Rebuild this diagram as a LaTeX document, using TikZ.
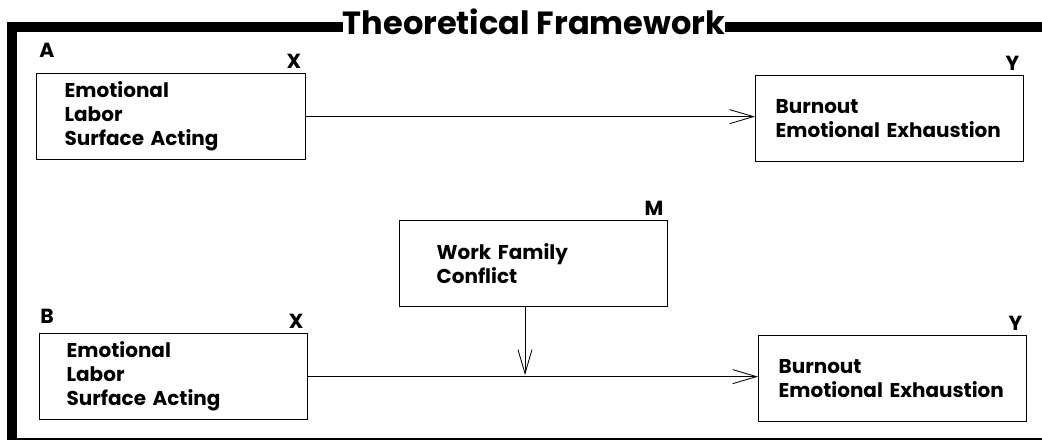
\documentclass[tikz,border=0pt]{standalone}
\usepackage{fontspec}
\setmainfont{Poppins}
\usetikzlibrary{arrows.meta}
\usetikzlibrary{positioning}
\tikzset{
	varbox/.style={draw, line width=0.9pt, anchor=north west, minimum height=2.15cm, align=left, inner ysep=0pt, font=\bfseries\fontsize{14.2}{17}\selectfont},
	varlabel/.style={font=\bfseries\fontsize{14.5}{16}\selectfont},
	link/.style={line width=0.6pt, -{Straight Barb[length=17pt, width=10pt, line width=0.6pt]}},
	frame/.style={line width=6.8pt, line cap=rect}
}

\begin{document}
\begin{tikzpicture}[x=0.025cm, y=-0.025cm]
	\useasboundingbox (0,0) rectangle (1042,440);
	\node (title) at (534,22) {\bfseries\fontsize{22.8}{26}\selectfont Theoretical Framework};
	\coordinate (corner) at (12,27);
	\draw[frame] (title.west |- corner) -- (corner) -- (12,443) -- (1045,443);
	\draw[frame] (title.east |- corner) -- (1045,27);
	% panel A
	\node[varlabel] (labA) at (47,50) {A};
	\node[varbox, text width=5.32cm, inner xsep=0.7cm] (xA) at (36,73) {Emotional\\Labor\\Surface Acting};%X
	\node[varbox, text width=5.7cm, inner xsep=0.5cm] (yA) at (755,75) {Burnout\\Emotional Exhaustion};%Y
	\node[varlabel, anchor=south east] (labXA) at (xA.north east) {X};
	\node[varlabel, anchor=south east] (labYA) at (yA.north east) {Y};
	\draw[link] (xA.east) -- (xA.east -| yA.west);
	% mediator
	\node[varbox, text width=4.85cm, inner xsep=0.925cm] (med) at (399,220) {Work Family\\Conflict};%M
	\node[varlabel, anchor=south east] (labM) at (med.north east) {M};
	% panel B
	\node[varlabel] (labB) at (47,316) {B};
	\node[varbox, text width=5.35cm, inner xsep=0.675cm] (xB) at (39,333) {Emotional\\Labor\\Surface Acting};%X
	\node[varbox, text width=5.7cm, inner xsep=0.5cm] (yB) at (758,335) {Burnout\\Emotional Exhaustion};%Y
	\node[varlabel, anchor=south east] (labXB) at (xB.north east) {X};
	\node[varlabel, anchor=south east] (labYB) at (yB.north east) {Y};
	\draw[link] (xB.east) -- (xB.east -| yB.west);
	\coordinate (join) at (525,375);
	\draw[link] (med.south -| join) -- (join);
\end{tikzpicture}
\end{document}
